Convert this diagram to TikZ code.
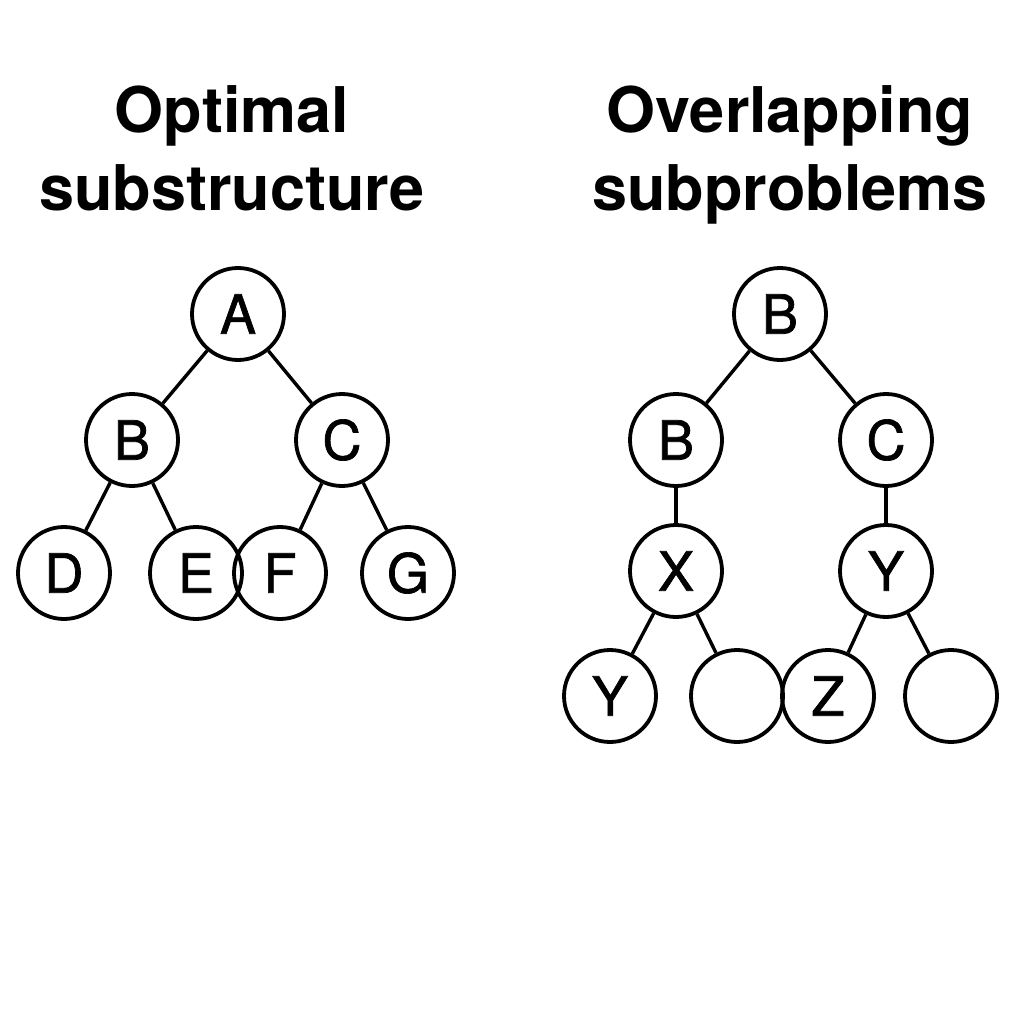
\documentclass[tikz,border=0pt]{standalone}
\usepackage{fontspec}
\setmainfont{TeX Gyre Heros}
\newfontfamily\medfont{TeX Gyre Heros}[FakeBold=1.3]

\begin{document}
\begin{tikzpicture}[x=1pt,y=-1pt,
    vertex/.style={draw,circle,line width=3.8pt,minimum size=92pt,inner sep=0pt,
      font=\medfont\fontsize{54}{54}\selectfont},
    edge/.style={line width=3.4pt},
    title/.style={align=center,font=\fontsize{63}{78}\selectfont\bfseries}]
    \useasboundingbox (0,0) rectangle (1024,1024);
    \node[title] (ttlL) at (232,148) {Optimal\\substructure};
    \node[title] (ttlR) at (790,155) {Overlapping\\subproblems};
    % left tree
    \node[vertex] (a) at (238,314) {A};
    \node[vertex] (b) at (132,440) {B};
    \node[vertex] (c) at (342,440) {C};
    \node[vertex] (d) at (64,573) {D};
    \node[vertex] (e) at (196,573) {E};
    \node[vertex] (f) at (280,573) {F};
    \node[vertex] (g) at (408,573) {G};
    \draw[edge] (a) -- (b);
    \draw[edge] (a) -- (c);
    \draw[edge] (b) -- (d);
    \draw[edge] (b) -- (e);
    \draw[edge] (c) -- (f);
    \draw[edge] (c) -- (g);
    % right tree
    \node[vertex] (rb) at (780,314) {B};
    \node[vertex] (sb) at (676,440) {B};
    \node[vertex] (sc) at (886,440) {C};
    \node[vertex] (sx) at (676,571) {X};
    \node[vertex] (sy) at (886,571) {Y};
    \node[vertex] (ty) at (610,696) {Y};
    \node[vertex] (t1) at (737,696) {};
    \node[vertex] (tz) at (828,696) {Z};
    \node[vertex] (t2) at (951,696) {};
    \draw[edge] (rb) -- (sb);
    \draw[edge] (rb) -- (sc);
    \draw[edge] (sb) -- (sx);
    \draw[edge] (sc) -- (sy);
    \draw[edge] (sx) -- (ty);
    \draw[edge] (sx) -- (t1);
    \draw[edge] (sy) -- (tz);
    \draw[edge] (sy) -- (t2);
\end{tikzpicture}
\end{document}
